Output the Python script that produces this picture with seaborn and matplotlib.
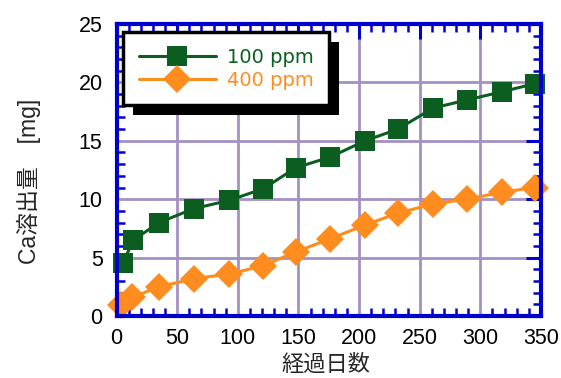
import matplotlib
matplotlib.use("Agg")
import matplotlib.pyplot as plt
import matplotlib.patches as mpatches
from matplotlib.ticker import MultipleLocator
import numpy as np
import pandas as pd
import seaborn as sns

# ---- data ----
days_100 = [5, 14, 35, 64, 93, 121, 148, 176, 205, 232, 261, 289, 318, 345]
ca_100 = [4.5, 6.5, 8.0, 9.2, 9.9, 10.9, 12.7, 13.6, 15.0, 16.0, 17.8, 18.5, 19.2, 19.9]
days_400 = [4, 13, 35, 64, 93, 121, 148, 176, 205, 232, 261, 289, 318, 345]
ca_400 = [0.9, 1.6, 2.5, 3.2, 3.6, 4.3, 5.5, 6.6, 7.8, 8.8, 9.6, 10.0, 10.6, 11.0]
series_labels = ["100 ppm", "400 ppm"]
x_ticks = [0, 50, 100, 150, 200, 250, 300, 350]
y_ticks = [0, 5, 10, 15, 20, 25]
xlabel = "経過日数"
ylabel = "Ca溶出量\u3000[mg]"

GREEN = "#0b5e1f"
ORANGE = "#ff8c1e"
BLUE = "#0000cc"
GRID = "#a391c4"
FS = 15.5
LFS = 14

df = pd.DataFrame({
    "day": days_100 + days_400,
    "ca": ca_100 + ca_400,
    "conc": [series_labels[0]] * len(days_100) + [series_labels[1]] * len(days_400),
})

sns.set_theme(style="white")
plt.rcParams["font.family"] = ["Liberation Sans", "Noto Sans CJK JP", "DejaVu Sans"]

W, H = 561, 378
fig = plt.figure(figsize=(W / 100, H / 100), dpi=100)
L, R, T, B = 116.5, 541, 24, 316
ax = fig.add_axes([L / W, 1 - B / H, (R - L) / W, (B - T) / H])

sns.lineplot(
    data=df, x="day", y="ca", hue="conc", style="conc",
    palette={series_labels[0]: GREEN, series_labels[1]: ORANGE},
    markers={series_labels[0]: "s", series_labels[1]: "D"},
    dashes=False, markersize=14, markeredgewidth=0, linewidth=2.2,
    ax=ax, clip_on=False, zorder=3,
)
for ln in ax.get_lines():
    if ln.get_marker() == "D":
        ln.set_markersize(14.5)

ax.set_xlim(0, 350)
ax.set_ylim(0, 25)
ax.set_xticks(x_ticks)
ax.set_yticks(y_ticks)
ax.xaxis.set_minor_locator(MultipleLocator(10))
ax.yaxis.set_minor_locator(MultipleLocator(1))
ax.grid(True, which="major", color=GRID, linewidth=2.0, zorder=0)
ax.set_axisbelow(True)

for s in ax.spines.values():
    s.set_color(BLUE)
    s.set_linewidth(3.0)
    s.set_zorder(4)

ax.tick_params(which="major", direction="in", length=11, width=2.2, color=BLUE,
               top=True, right=True, labelsize=FS, labelcolor="black")
ax.tick_params(axis="x", which="major", pad=9)
ax.tick_params(axis="y", which="major", pad=10)
ax.tick_params(which="minor", direction="in", length=6, width=1.8, color=BLUE,
               top=True, right=True, bottom=True, left=True)

ax.set_xlabel(xlabel, fontsize=16)
ax.set_ylabel(ylabel, fontsize=16.5)
ax.xaxis.set_label_coords((326 - L) / (R - L), (B - 355) / (B - T))
ax.yaxis.set_label_coords((41 - L) / (R - L), (B - 181) / (B - T))

leg = ax.legend(
    loc="upper left", bbox_to_anchor=(6.5 / (R - L), 1 - 8 / (B - T)),
    frameon=True, fancybox=False, edgecolor="black", facecolor="white",
    framealpha=1, labelcolor="linecolor", handlelength=4.0,
    prop={"family": ["DejaVu Sans"], "size": LFS},
    borderpad=0.8, labelspacing=0.22, handletextpad=0.55, borderaxespad=0,
)
leg.get_frame().set_linewidth(2.5)
leg.set_zorder(10)

fig.canvas.draw()
bb = leg.get_window_extent().transformed(fig.transFigure.inverted())
shadow = mpatches.Rectangle((bb.x0 + 10 / W, bb.y0 - 10 / H), bb.width, bb.height,
                            transform=fig.transFigure, facecolor="black",
                            edgecolor="none", zorder=9)
ax.add_artist(shadow)
shadow.set_transform(fig.transFigure)
shadow.set_clip_on(False)

fig.savefig("out.png", dpi=100)
